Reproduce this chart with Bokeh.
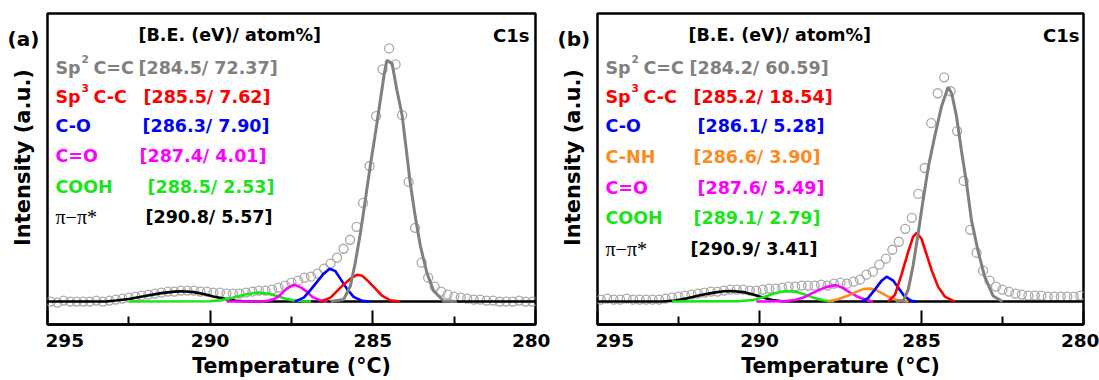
import math
from bokeh.plotting import figure
from bokeh.layouts import row
from bokeh.models import Range1d, FixedTicker, Label
from bokeh.embed import file_html
from bokeh.resources import INLINE
from bokeh.core.properties import value

# ---------------- data ----------------
# binding energy grid of the measured points (eV)
ENERGY = [294.9, 294.7, 294.5, 294.3, 294.1, 293.9, 293.7, 293.5, 293.3, 293.1,
          292.9, 292.7, 292.5, 292.3, 292.1, 291.9, 291.7, 291.5, 291.3, 291.1,
          290.9, 290.7, 290.5, 290.3, 290.1, 289.9, 289.7, 289.5, 289.3, 289.1,
          288.9, 288.7, 288.5, 288.3, 288.1, 287.9, 287.7, 287.5, 287.3, 287.1,
          286.9, 286.7, 286.5, 286.3, 286.1, 285.9, 285.7, 285.5, 285.3, 285.1,
          284.9, 284.7, 284.5, 284.3, 284.1, 283.9, 283.7, 283.5, 283.3, 283.1,
          282.9, 282.7, 282.5, 282.3, 282.1, 281.9, 281.7, 281.5, 281.3, 281.1,
          280.9, 280.7, 280.5, 280.3, 280.1]

A_MEASURED = [0, -1, 1, 0, 0, 0, 0, 1, 0, 1,
              2, 3, 4, 5, 6, 7, 8, 9, 10, 10,
              11, 11, 11, 10, 10, 9, 9, 8, 8, 8,
              9, 10, 11, 11, 12, 14, 16, 19, 21, 24,
              25, 28, 33, 38, 44, 53, 62, 75, 99, 136,
              186, 233, 254, 238, 187, 120, 74, 39, 24, 15,
              10, 7, 5, 4, 3, 2, 2, 1, 1, 0,
              0, 0, 1, 0, 0]

B_MEASURED = [2, 3, 2, 2, 3, 2, 2, 2, 2, 2,
              3, 4, 5, 6, 7, 8, 9, 10, 10, 11,
              12, 12, 12, 11, 11, 12, 13, 13, 14, 15,
              15, 16, 16, 16, 17, 16, 18, 19, 18, 20,
              22, 27, 30, 37, 43, 52, 60, 73, 84, 108,
              134, 179, 209, 225, 211, 171, 121, 72, 49, 31,
              21, 15, 12, 10, 8, 7, 6, 6, 6, 5,
              5, 5, 5, 5, 6]

# fitted components, panel (a)
A_BLACK_X = [295.0, 293.2, 292.9, 292.5, 292.0, 291.5, 291.1, 290.85, 290.5, 290.2, 289.9, 289.5, 289.2, 288.9, 280.0]
A_BLACK_Y = [0, 0, 1, 2.5, 5.5, 8.5, 10, 10.3, 9.5, 7.5, 5, 2.3, 0.8, 0, 0]
A_GREEN_X = [292.5, 290.0, 289.7, 289.4, 289.1, 288.85, 288.55, 288.25, 287.95, 287.7, 287.45, 287.2, 286.9]
A_GREEN_Y = [0, 0.3, 1.2, 3, 5.5, 7.5, 9, 8, 5.5, 3, 1.2, 0.3, 0]
A_MAGENTA_X = [289.5, 288.4, 288.2, 288.0, 287.85, 287.65, 287.43, 287.2, 287.05, 286.85, 286.6, 286.4]
A_MAGENTA_Y = [0, 0, 1, 3, 6.5, 13, 17, 14, 10.5, 4.5, 1, 0]
A_BLUE_X = [287.4, 287.12, 286.92, 286.71, 286.51, 286.33, 286.15, 286.0, 285.79, 285.59, 285.33, 285.08]
A_BLUE_Y = [0, 4, 11.5, 20, 28, 33, 30.5, 23, 12.5, 4.7, 0.7, 0]
A_RED_X = [286.6, 286.3, 286.1, 285.9, 285.69, 285.48, 285.33, 285.13, 284.92, 284.72, 284.46, 284.16]
A_RED_Y = [0, 4, 10.5, 17, 23, 27, 26, 20, 13, 6, 1.3, 0]
A_GRAY_X = [286.3, 285.9, 285.69, 285.54, 285.38, 285.23, 285.08, 284.92, 284.77, 284.65, 284.57,
            284.41, 284.26, 284.10, 283.97, 283.85, 283.70, 283.54, 283.34, 283.13, 282.82, 282.42]
A_GRAY_Y = [0, 2, 15.6, 39, 69, 102, 136, 169, 202, 228, 242,
            239, 212, 187, 152, 119, 86, 56, 29, 10.6, 0.6, 0]

# fitted components, panel (b)
B_BLACK_X = [295.0, 293.0, 292.6, 292.2, 291.8, 291.4, 291.1, 290.85, 290.5, 290.2, 289.9, 289.6, 289.3, 289.0, 280.0]
B_BLACK_Y = [0, 0, 1, 3.5, 6.5, 9, 10.3, 10.6, 9.5, 7, 4, 1.5, 0.3, 0, 0]
B_GREEN_X = [292.7, 290.6, 290.2, 289.9, 289.6, 289.3, 289.1, 288.9, 288.6, 288.3, 288.0, 287.7]
B_GREEN_Y = [0, 0.5, 1.5, 4, 7.5, 10, 10.5, 10, 7, 3.5, 1, 0]
B_MAGENTA_X = [290.1, 289.2, 288.9, 288.65, 288.4, 288.2, 287.95, 287.65, 287.45, 287.2, 286.95, 286.7, 286.5]
B_MAGENTA_Y = [0, 0.5, 1.5, 4, 8, 11, 14.5, 16.5, 14, 9, 4.5, 1.5, 0]
B_ORANGE_X = [287.9, 287.6, 287.3, 287.0, 286.8, 286.6, 286.4, 286.2, 286.0, 285.8, 285.6, 285.4]
B_ORANGE_Y = [0, 2, 5.5, 10, 12.5, 13, 11.5, 8, 4.5, 2, 0.5, 0]
B_BLUE_X = [286.85, 286.65, 286.44, 286.23, 286.08, 285.87, 285.72, 285.52, 285.31, 285.15]
B_BLUE_Y = [0, 3.5, 12, 21, 25, 21, 14, 5, 0.7, 0]
B_RED_X = [286.03, 285.82, 285.62, 285.41, 285.26, 285.15, 285.0, 284.85, 284.69, 284.49, 284.28, 283.97]
B_RED_Y = [0, 6.7, 26.7, 50, 65, 69, 63, 48, 31.7, 15, 5, 0]
B_GRAY_X = [285.8, 285.56, 285.41, 285.26, 285.10, 284.95, 284.79, 284.59, 284.38, 284.18, 284.07,
            283.92, 283.77, 283.61, 283.46, 283.25, 283.05, 282.79, 282.5]
B_GRAY_Y = [0, 1, 12, 36, 69, 102, 135, 166, 196, 215, 209,
            186, 152, 119, 82, 50, 25, 5.6, 0]

# legend table
A_SPECIES = ["Sp|2| C=C", "Sp|3| C-C", "C-O", "C=O", "COOH", "π−π*"]
A_BE = ["284.5", "285.5", "286.3", "287.4", "288.5", "290.8"]
A_AT = ["72.37", "7.62", "7.90", "4.01", "2.53", "5.57"]
B_SPECIES = ["Sp|2| C=C", "Sp|3| C-C", "C-O", "C-NH", "C=O", "COOH", "π−π*"]
B_BE = ["284.2", "285.2", "286.1", "286.6", "287.6", "289.1", "290.9"]
B_AT = ["60.59", "18.54", "5.28", "3.90", "5.49", "2.79", "3.41"]

X_TICKS = [295, 290, 285, 280]
X_MINOR = [292.5, 287.5, 282.5]

# ---------------- styling ----------------
GRAY = "#808080"
RED = "#ff0000"
BLUE = "#0000ff"
MAGENTA = "#ff00ff"
GREEN = "#19e619"
ORANGE = "#ff8a1c"
BLACK = "#000000"
FONT = "DejaVu Sans"

A_COMPONENTS = [(A_BLACK_X, A_BLACK_Y, BLACK), (A_GREEN_X, A_GREEN_Y, GREEN),
                (A_MAGENTA_X, A_MAGENTA_Y, MAGENTA), (A_BLUE_X, A_BLUE_Y, BLUE),
                (A_RED_X, A_RED_Y, RED), (A_GRAY_X, A_GRAY_Y, GRAY)]
B_COMPONENTS = [(B_BLACK_X, B_BLACK_Y, BLACK), (B_GREEN_X, B_GREEN_Y, GREEN),
                (B_MAGENTA_X, B_MAGENTA_Y, MAGENTA), (B_ORANGE_X, B_ORANGE_Y, ORANGE),
                (B_BLUE_X, B_BLUE_Y, BLUE), (B_RED_X, B_RED_Y, RED), (B_GRAY_X, B_GRAY_Y, GRAY)]
A_COLORS = [GRAY, RED, BLUE, MAGENTA, GREEN, BLACK]
B_COLORS = [GRAY, RED, BLUE, ORANGE, MAGENTA, GREEN, BLACK]

STRIP = 45  # left strip holding panel tag and y-axis title
FRAME_LEFT = 47  # frame left edge, in panel pixels


def make_strip(tag):
    s = figure(width=STRIP, height=380, title=None,
               x_range=Range1d(0, STRIP), y_range=Range1d(380, 0),
               output_backend="svg", toolbar_location=None,
               x_axis_location=None, y_axis_location=None,
               min_border=0)
    s.outline_line_color = None
    s.xgrid.visible = False
    s.ygrid.visible = False
    s.text(x=[7], y=[31], text=[tag], text_font=value(FONT), text_font_style="bold",
           text_font_size="20px", text_color="black", text_align="left",
           text_baseline="middle")
    s.text(x=[22], y=[176], text=["Intensity (a.u.)"], text_font=value(FONT),
           text_font_style="bold", text_font_size="21px", text_color="black",
           text_align="center", text_baseline="middle", angle=math.pi / 2)
    return s


def make_panel(measured, components, species, be, at, colors,
               width, border_right, value_px, row_py):
    border_left = FRAME_LEFT - STRIP
    fw = width - border_left - border_right
    p = figure(width=width, height=380, title=None,
               x_range=Range1d(295, 280), y_range=Range1d(-23, 289),
               output_backend="svg", toolbar_location=None, y_axis_location=None,
               min_border_left=border_left, min_border_right=border_right,
               min_border_top=13, min_border_bottom=55)
    p.xgrid.visible = False
    p.ygrid.visible = False
    p.outline_line_color = "black"
    p.outline_line_width = 2.5

    def X(px):  # panel pixel -> data
        return 295 - (px - FRAME_LEFT) * 15.0 / fw

    def Y(py):
        return 302 - py

    xa = p.xaxis[0]
    xa.ticker = FixedTicker(ticks=X_TICKS, minor_ticks=X_MINOR)
    xa.major_tick_in = 14
    xa.major_tick_out = 0
    xa.minor_tick_in = 8
    xa.minor_tick_out = 0
    xa.major_tick_line_width = 2
    xa.minor_tick_line_width = 2
    xa.axis_line_width = 2.5
    xa.major_label_text_font = FONT
    xa.major_label_text_font_style = "bold"
    xa.major_label_text_font_size = "18.5px"
    xa.major_label_text_color = "black"
    xa.major_label_standoff = 9
    xa.axis_label = "Temperature (°C)"
    xa.axis_label_text_font = FONT
    xa.axis_label_text_font_style = "bold"
    xa.axis_label_text_font_size = "20.5px"
    xa.axis_label_text_color = "black"
    xa.axis_label_standoff = 4

    p.scatter(ENERGY, measured, marker="circle", size=9, fill_color=None,
              line_color="#a9a9a9", line_width=1.3)
    for xs, ys, c in components:
        p.line(xs, ys, line_color=c, line_width=3 if c == GRAY else 2.6)

    def lab(px, py, text, color="black", size="17.5px", font=FONT, style="bold", align="left"):
        p.add_layout(Label(x=X(px), y=Y(py), text=text, text_color=color,
                           text_font=font, text_font_size=size, text_font_style=style,
                           text_align=align, text_baseline="middle"))

    lab(FRAME_LEFT + 91, 35, "[B.E. (eV)/ atom%]")
    lab(FRAME_LEFT + 482, 35, "C1s", size="18px", align="right")
    for i, sp in enumerate(species):
        py = row_py[i]
        c = colors[i]
        if "|" in sp:
            a, sup, b = sp.split("|")
            lab(FRAME_LEFT + 8, py, a, color=c)
            lab(FRAME_LEFT + 34, py - 9, sup, color=c, size="10.5px")
            lab(FRAME_LEFT + 46, py, b.strip(), color=c)
        elif sp.startswith("π"):
            lab(FRAME_LEFT + 8, py, sp, color=c, size="20px", font="Liberation Serif", style="normal")
        else:
            lab(FRAME_LEFT + 8, py, sp, color=c)
        lab(value_px[i], py, "[" + be[i] + "/ " + at[i] + "]", color=c)
    return p


sa = make_strip("(a)")
pa = make_panel(A_MEASURED, A_COMPONENTS, A_SPECIES, A_BE, A_AT, A_COLORS,
                550 - STRIP, 15, [138, 143, 142, 139, 147, 145], [68, 97, 126, 156, 187, 217])
sb = make_strip("(b)")
pb = make_panel(B_MEASURED, B_COMPONENTS, B_SPECIES, B_BE, B_AT, B_COLORS,
                549 - STRIP, 16, [139, 143, 147, 143, 147, 143, 140], [68, 97, 126, 157, 188, 218, 249])

layout = row(sa, pa, sb, pb)
open("out.html", "w").write(file_html(layout, INLINE))
